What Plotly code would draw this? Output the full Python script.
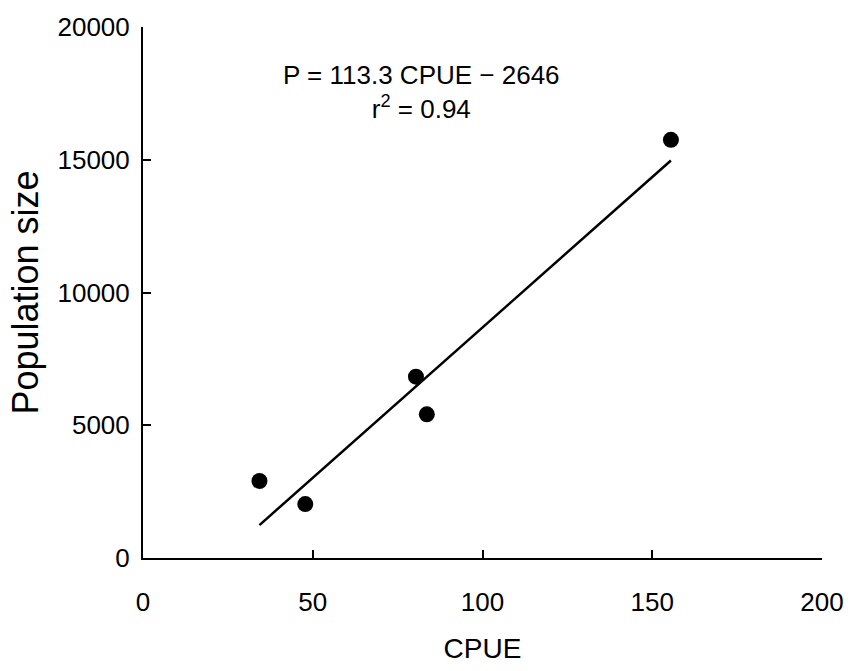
import plotly.graph_objects as go

# Data
cpue = [34.3, 47.8, 80.4, 83.6, 155.5]
population = [2900, 2030, 6830, 5410, 15750]

# Regression line P = 113.3 CPUE - 2646
slope = 113.3
intercept = -2646
line_x = [34.3, 155.5]
line_y = [slope * v + intercept for v in line_x]

x_ticks = [0, 50, 100, 150, 200]
y_ticks = [0, 5000, 10000, 15000, 20000]
y_tick_text = ["0", "5000", "10000", "15000", "20000"]

font_family = "Liberation Sans, Arial, Helvetica, sans-serif"

fig = go.Figure()
fig.add_trace(go.Scatter(x=line_x, y=line_y, mode="lines",
                         line=dict(color="black", width=2.5), showlegend=False))
fig.add_trace(go.Scatter(x=cpue, y=population, mode="markers",
                         marker=dict(color="black", size=16, symbol="circle"),
                         showlegend=False))

fig.add_annotation(x=0.41, y=0.942, xref="paper", yref="paper",
                   text="P = 113.3 CPUE − 2646<br>r<sup>2</sup> = 0.94",
                   showarrow=False, align="center",
                   font=dict(family=font_family, size=26, color="black"))

fig.update_layout(
    width=856, height=671,
    margin=dict(l=143, r=28, t=22, b=113),
    paper_bgcolor="white", plot_bgcolor="white",
    font=dict(family=font_family, color="black"),
)
fig.update_xaxes(range=[0, 200], tickvals=x_ticks, ticks="inside", ticklen=8,
                 tickwidth=2, tickcolor="black",
                 showline=True, linecolor="black", linewidth=2,
                 showgrid=False, zeroline=False,
                 tickfont=dict(size=26), ticklabelstandoff=20,
                 title=dict(text="CPUE", font=dict(size=28), standoff=22))
fig.update_yaxes(range=[0, 20000], tickvals=y_ticks, ticktext=y_tick_text,
                 ticks="inside", ticklen=8,
                 tickwidth=2, tickcolor="black",
                 showline=True, linecolor="black", linewidth=2,
                 showgrid=False, zeroline=False,
                 tickfont=dict(size=26), ticklabelstandoff=6,
                 title=dict(text="Population size", font=dict(size=36), standoff=8))

fig.write_html("out.html")
